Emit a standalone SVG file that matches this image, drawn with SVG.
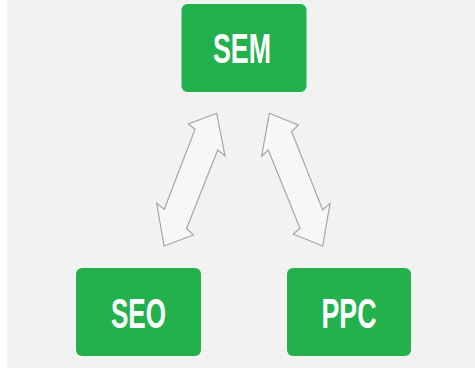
<svg xmlns="http://www.w3.org/2000/svg" width="475" height="371" viewBox="0 0 475 371">
<style>
.box{fill:#23b14d;}
.lbl{font-family:"Liberation Sans",Arial,sans-serif;font-weight:bold;font-size:42px;fill:#ffffff;text-anchor:middle;}
.arr{fill:#f7f7f7;stroke:#a6a6a6;stroke-width:1.2;stroke-linejoin:miter;}
</style>
<rect x="0" y="0" width="475" height="371" fill="#ffffff"/>
<rect x="7" y="0" width="468" height="368" fill="#f2f2f2"/>
<g id="connectors">
<polygon class="arr" points="216.7,113.3 225,156 217.7,150 186.7,228.3 193.3,235 164,246 156.7,203.3 164.3,209.3 195,129.3 188.3,124"/>
<polygon class="arr" points="269.3,113.3 298.3,125 291.7,131.7 322.7,210 330,203.3 322.7,246 293.3,234 300,228.3 268.3,150 261.7,156"/>
</g>
<g id="sem">
<rect class="box" x="181.5" y="4" width="125" height="88" rx="6"/>
<text class="lbl" x="242" y="63" textLength="58" lengthAdjust="spacingAndGlyphs">SEM</text>
</g>
<g id="seo">
<rect class="box" x="76" y="268" width="125" height="88" rx="6"/>
<text class="lbl" x="138.5" y="328" textLength="55" lengthAdjust="spacingAndGlyphs">SEO</text>
</g>
<g id="ppc">
<rect class="box" x="287" y="268" width="124" height="88" rx="6"/>
<text class="lbl" x="349" y="328" textLength="55" lengthAdjust="spacingAndGlyphs">PPC</text>
</g>
</svg>
